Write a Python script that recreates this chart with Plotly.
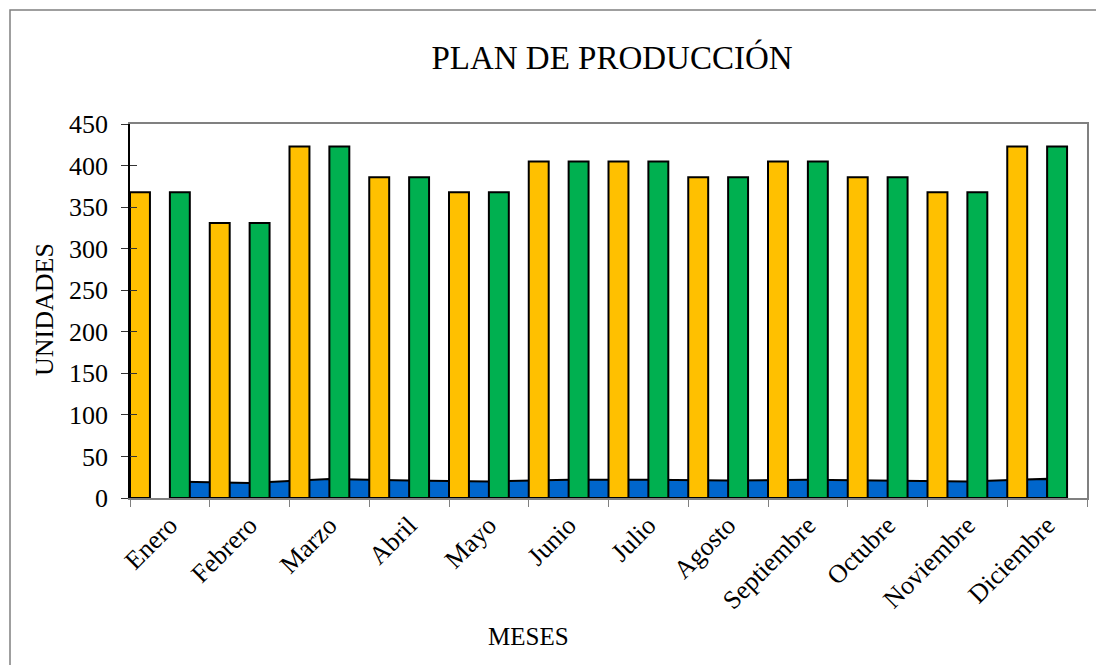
import plotly.graph_objects as go

meses = ["Enero", "Febrero", "Marzo", "Abril", "Mayo", "Junio", "Julio",
         "Agosto", "Septiembre", "Octubre", "Noviembre", "Diciembre"]
produccion_plan = [368, 331, 423, 386, 368, 405, 405, 386, 405, 386, 368, 423]
produccion_real = [368, 331, 423, 386, 368, 405, 405, 386, 405, 386, 368, 423]
dias_laborables = [20, 18, 23, 21, 20, 22, 22, 21, 22, 21, 20, 23]
y_ticks = [0, 50, 100, 150, 200, 250, 300, 350, 400, 450]

FONT = "Liberation Serif, Times New Roman, serif"
OFF = 8  # default page body margin
W, H = 1104 - OFF, 665 - OFF
L, R, T, B = 130 - OFF, 17, 124 - OFF, 167
PW, PH = W - L - R, H - T - B

fig = go.Figure()

# blue area (behind the bars, on the base axes)
fig.add_trace(go.Scatter(
    x=meses + meses[::-1],
    y=dias_laborables + [0] * len(dias_laborables),
    fill="toself", fillcolor="#0066CC", mode="lines",
    line=dict(color="black", width=2),
    xaxis="x", yaxis="y", hoverinfo="skip", showlegend=False,
))

# bars on overlaid axes so they sit on top of the area
fig.add_trace(go.Bar(
    x=meses, y=produccion_plan, xaxis="x2", yaxis="y2",
    offset=-0.5, width=0.25,
    marker=dict(color="#FFC000", line=dict(color="black", width=2)),
    showlegend=False, hoverinfo="skip",
))
fig.add_trace(go.Bar(
    x=meses, y=produccion_real, xaxis="x2", yaxis="y2",
    offset=0.0, width=0.25,
    marker=dict(color="#00B050", line=dict(color="black", width=2)),
    showlegend=False, hoverinfo="skip",
))

tickfont = dict(family=FONT, size=26, color="black")

fig.update_layout(
    width=W, height=H,
    margin=dict(l=L, r=R, t=T, b=B, pad=0),
    paper_bgcolor="white", plot_bgcolor="white",
    barmode="overlay",
    showlegend=False,
    hovermode=False,
    title=dict(text="PLAN DE PRODUCCIÓN", x=(612 - OFF) / W, xanchor="center",
               y=1 - (57 - OFF) / H, yanchor="middle",
               font=dict(family=FONT, size=33, color="black")),
    xaxis=dict(
        type="category", categoryorder="array", categoryarray=meses,
        range=[-0.5, len(meses) - 0.5],
        showline=True, linecolor="#808080", linewidth=1.5, mirror=True,
        ticks="outside", tickson="boundaries", ticklen=7, tickcolor="#808080",
        tickangle=-45, tickfont=tickfont, showgrid=False, zeroline=False,
        fixedrange=True,
    ),
    xaxis2=dict(
        type="category", categoryorder="array", categoryarray=meses,
        range=[-0.5, len(meses) - 0.5], overlaying="x", visible=False,
        fixedrange=True,
    ),
    yaxis=dict(
        range=[0, 450], tickvals=y_ticks,
        showline=True, linecolor="#808080", linewidth=1.5, mirror=True,
        ticks="outside", ticklen=7, tickcolor="#333333",
        tickfont=tickfont, ticklabelstandoff=8,
        showgrid=False, zeroline=False, fixedrange=True,
    ),
    yaxis2=dict(
        range=[0, 450], tickvals=y_ticks, overlaying="y", side="left",
        showline=True, linecolor="black", linewidth=1.5,
        ticks="inside", ticklen=7, tickcolor="#333333",
        showticklabels=False, showgrid=False, zeroline=False, fixedrange=True,
    ),
    annotations=[
        dict(text="MESES", xref="paper", yref="paper",
             x=(528 - 130) / PW, y=(498 - 636) / PH,
             xanchor="center", yanchor="middle", showarrow=False,
             font=dict(family=FONT, size=25, color="black")),
        dict(text="UNIDADES", xref="paper", yref="paper",
             x=(44 - 130) / PW, y=(498 - 310) / PH, textangle=-90,
             xanchor="center", yanchor="middle", showarrow=False,
             font=dict(family=FONT, size=26, color="black")),
    ],
    shapes=[
        dict(type="rect", xref="paper", yref="paper",
             x0=(10 - 130) / PW, x1=1.2, y0=-1.0, y1=(498 - 10) / PH,
             line=dict(color="#808080", width=1.5), fillcolor="rgba(0,0,0,0)",
             layer="below"),
    ],
)

fig.write_html("out.html")
